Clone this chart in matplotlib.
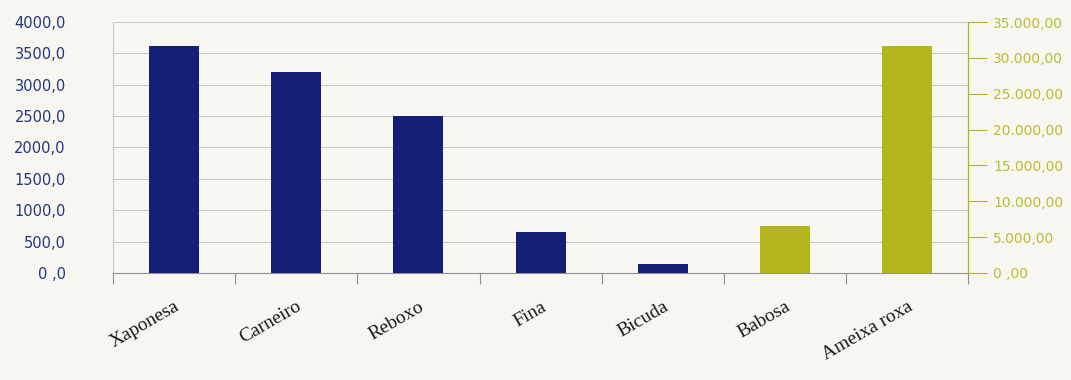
from matplotlib import pyplot as plt
import numpy as np

# data
varieties = ['Xaponesa', 'Carneiro', 'Reboxo', 'Fina', 'Bicuda', 'Babosa', 'Ameixa roxa']
left_vals = [3625, 3205, 2500, 655, 150]          # first five, left axis
right_vals = [6500, 31700]                         # last two, right axis
left_ticks = [0, 500, 1000, 1500, 2000, 2500, 3000, 3500, 4000]
left_labels = ['0 ,0', '500,0', '1000,0', '1500,0', '2000,0', '2500,0', '3000,0', '3500,0', '4000,0']
right_ticks = [0, 5000, 10000, 15000, 20000, 25000, 30000, 35000]
right_labels = ['0 ,00', '5.000,00', '10.000,00', '15.000,00', '20.000,00',
                '25.000,00', '30.000,00', '35.000,00']

navy = '#141f78'
olive = '#b2b51c'
paper = '#f7f6f1'

fig = plt.figure(figsize=(10.71, 3.8), dpi=100, facecolor=paper)
ax = fig.add_axes([0.1055, 0.2816, 0.7985, 0.6605])
ax.set_facecolor(paper)
ax2 = ax.twinx()

x_ind = np.arange(len(varieties))
width = 0.41

ax.bar(x_ind[:len(left_vals)], left_vals, width=width, color=navy, zorder=3)
ax2.bar(x_ind[len(left_vals):], right_vals, width=width, color=olive, zorder=3)

ax.set_xlim(-0.5, len(varieties) - 0.5)
ax.set_ylim(0, 4000)
ax2.set_ylim(0, 35000)

# gridlines follow the left scale
ax.set_yticks(left_ticks)
ax.set_yticklabels(left_labels, color='#25357e', fontsize=10.5, family='DejaVu Sans')
ax.yaxis.grid(True, color='#bdbdbd', linewidth=0.6, zorder=0)
ax.tick_params(axis='y', length=0, pad=34)

ax2.set_yticks(right_ticks)
ax2.set_yticklabels(right_labels, color='#bcbc30', fontsize=10, family='DejaVu Sans')
ax2.tick_params(axis='y', length=14, color=olive, width=0.8, pad=4)

# category boundaries as ticks, labels centred on categories
ax.set_xticks(np.arange(len(varieties) + 1) - 0.5, minor=False)
ax.set_xticklabels([''] * (len(varieties) + 1))
ax.tick_params(axis='x', length=8, color='#909090', width=0.8)
ax.set_xticks(x_ind, minor=True)
ax.set_xticklabels(varieties, minor=True, rotation=30, ha='right', va='top',
                   rotation_mode='anchor', family='Liberation Serif', fontsize=14,
                   color='#1a1a1a')
ax.tick_params(axis='x', which='minor', length=0, pad=18)

for a in (ax, ax2):
    a.spines['top'].set_visible(False)
    a.spines['left'].set_color('#c4ccd2')
    a.spines['bottom'].set_color('#909090')
    a.spines['right'].set_color(olive)
ax2.spines['left'].set_visible(False)
ax2.spines['bottom'].set_visible(False)

plt.savefig('out.png', dpi=100, facecolor=paper)
